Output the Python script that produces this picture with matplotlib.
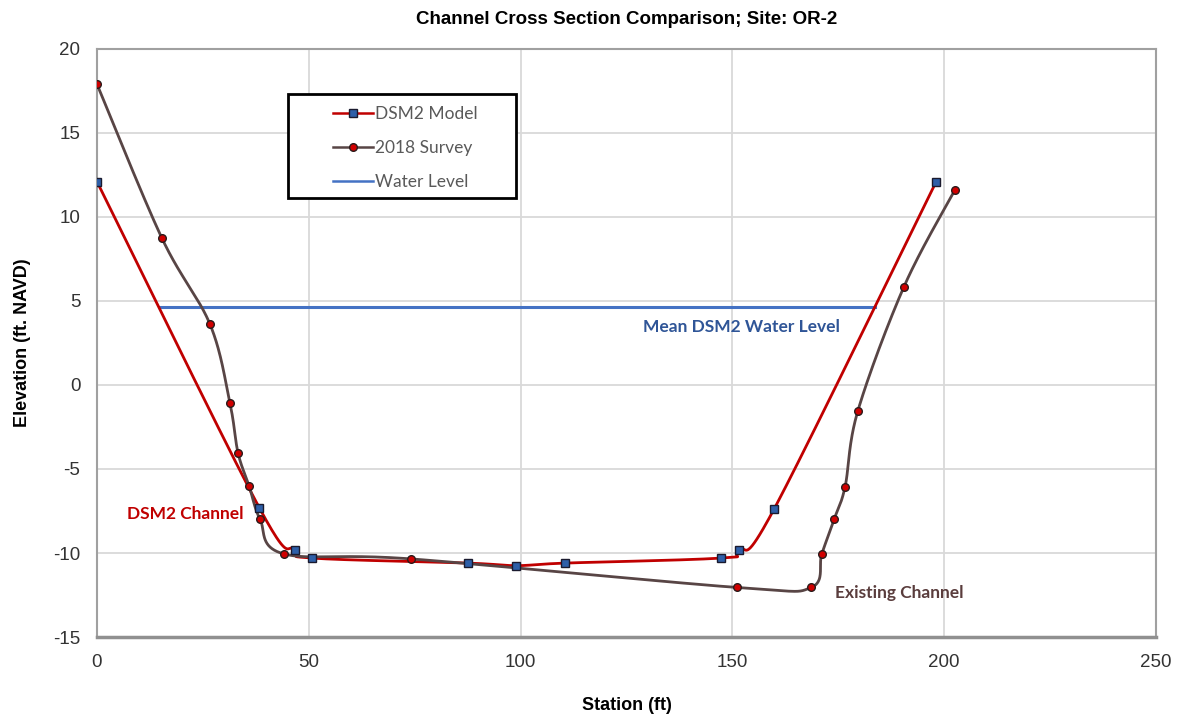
import numpy as np
import matplotlib
matplotlib.use("Agg")
import matplotlib.pyplot as plt
from matplotlib.lines import Line2D
from matplotlib.patches import Rectangle

plt.rcParams['axes.unicode_minus'] = False

# DSM2 model cross section (station ft, elevation ft NAVD)
dsm2_station = [0, 38.3, 46.7, 50.8, 87.6, 98.9, 110.5, 147.3, 151.6, 159.8, 198.1]
dsm2_elev = [12.1, -7.3, -9.8, -10.3, -10.6, -10.75, -10.6, -10.3, -9.85, -7.4, 12.1]

# 2018 survey
survey_station = [0, 15.3, 26.7, 31.4, 33.3, 35.9, 38.5, 44.1, 74.1, 151.1, 168.6, 171.1, 174.0, 176.6, 179.6, 190.5, 202.5]
survey_elev = [17.9, 8.75, 3.6, -1.1, -4.05, -6.0, -8.0, -10.05, -10.35, -12.05, -12.05, -10.05, -8.0, -6.05, -1.55, 5.85, 11.6]

# mean DSM2 water level
wl_station = [14.9, 183.7]
wl_elev = [4.65, 4.65]

xticks = [0, 50, 100, 150, 200, 250]
yticks = [-15, -10, -5, 0, 5, 10, 15, 20]


def excel_smooth(x, y, n=40):
    # bezier smoothing similar to Excel's "smoothed line"
    x = np.asarray(x, float)
    y = np.asarray(y, float)
    P = np.column_stack([x, y])
    out = [P[0]]
    t = np.linspace(0, 1, n)[1:]
    for i in range(len(P) - 1):
        p0 = P[i - 1] if i > 0 else P[i]
        p1 = P[i]
        p2 = P[i + 1]
        p3 = P[i + 2] if i + 2 < len(P) else P[i + 1]
        c1 = p1 + (p2 - p0) / 6.0
        c2 = p2 - (p3 - p1) / 6.0
        seg = ((1 - t) ** 3)[:, None] * p1 + (3 * (1 - t) ** 2 * t)[:, None] * c1 \
            + (3 * (1 - t) * t ** 2)[:, None] * c2 + (t ** 3)[:, None] * p2
        out.extend(seg)
    out = np.array(out)
    return out[:, 0], out[:, 1]


fig = plt.figure(figsize=(11.77, 7.19), dpi=100)
ax = fig.add_axes([0.0824, 0.114, 0.8998, 0.818])

red = '#c00000'
brown = '#584545'
blue = '#4472c4'

ax.plot(wl_station, wl_elev, color=blue, lw=2.2, zorder=2)

sx, sy = excel_smooth(dsm2_station, dsm2_elev)
ax.plot(sx, sy, color=red, lw=2.0, zorder=3)
ax.plot(dsm2_station, dsm2_elev, ls='none', marker='s', ms=5.5, mfc='#2e5fa8',
        mec='#1a1a2e', mew=1.0, zorder=5)

vx, vy = excel_smooth(survey_station, survey_elev)
ax.plot(vx, vy, color=brown, lw=2.0, zorder=3)
ax.plot(survey_station, survey_elev, ls='none', marker='o', ms=5.5, mfc='#d00000',
        mec='#2a1a1a', mew=1.0, zorder=6)

ax.set_xlim(0, 250)
ax.set_ylim(-15, 20)
ax.set_xticks(xticks)
ax.set_yticks(yticks)
ax.grid(True, color='#d9d9d9', lw=1.3)
ax.set_axisbelow(True)
for s in ax.spines.values():
    s.set_color('#a0a0a0')
    s.set_linewidth(1.5)
ax.spines['bottom'].set_linewidth(2.5)
ax.spines['bottom'].set_color('#909090')
ax.tick_params(length=0, pad=12, labelsize=13.5, labelcolor='#333333')
for lab in ax.get_xticklabels() + ax.get_yticklabels():
    lab.set_family(['Liberation Sans Narrow', 'Liberation Sans'])

ax.set_title('Channel Cross Section Comparison; Site: OR-2', fontsize=13.5,
             fontweight='bold', family='Liberation Sans', pad=18)
ax.set_xlabel('Station (ft)', fontsize=13, fontweight='bold', family='Liberation Sans')
ax.set_ylabel('Elevation (ft. NAVD)', fontsize=13, fontweight='bold', family='Liberation Sans')
ax.xaxis.set_label_coords(0.5, -0.117)
ax.xaxis.label.set_va('center')
ax.yaxis.set_label_coords(-0.0708, 0.5)
ax.yaxis.label.set_va('center')

ax.text(7.1, -7.7, 'DSM2 Channel', color=red, fontsize=12.5, fontweight='bold',
        family='Lato', va='center', ha='left')
ax.text(174.2, -12.4, 'Existing Channel', color='#5a3d3d', fontsize=12.5,
        fontweight='bold', family='Lato', va='center', ha='left')
ax.text(128.9, 3.45, 'Mean DSM2 Water Level', color='#2f5597', fontsize=12.5,
        fontweight='bold', family='Lato', va='center', ha='left')

# legend box drawn separately so padding matches
ax.add_patch(Rectangle((0.1804, 0.7466), 0.2153, 0.1769, transform=ax.transAxes,
                       facecolor='white', edgecolor='black', lw=2.0, zorder=9))
handles = [
    Line2D([], [], color=red, lw=1.8, marker='s', ms=5.5, mfc='#2e5fa8', mec='#1a1a2e'),
    Line2D([], [], color=brown, lw=1.8, marker='o', ms=5.5, mfc='#d00000', mec='#2a1a1a'),
    Line2D([], [], color=blue, lw=1.8),
]
leg = ax.legend(handles, ['DSM2 Model', '2018 Survey', 'Water Level'],
                loc='upper left', bbox_to_anchor=(0.2229, 0.903), frameon=False,
                prop={'family': 'Lato', 'size': 12.5}, labelcolor='#595959',
                handlelength=2.3, handletextpad=0.1, borderpad=0,
                labelspacing=1.05, borderaxespad=0)
leg.set_zorder(10)

fig.savefig('out.png', dpi=100, facecolor='white')
